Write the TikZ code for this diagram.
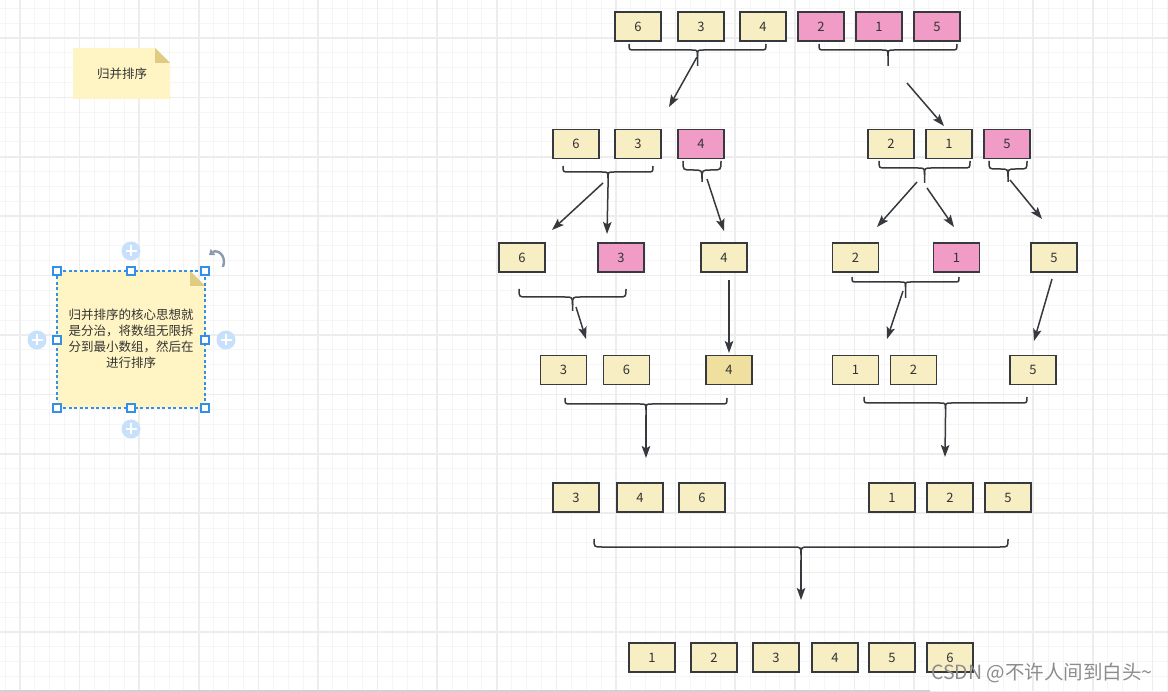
\documentclass[tikz,border=0pt]{standalone}
\usepackage{fontspec}
\setmainfont{Noto Sans CJK SC}
\usepackage{xcolor}
\usepackage{tikz}
\usetikzlibrary{positioning,arrows.meta}

\definecolor{boxline}{RGB}{54,57,61}
\definecolor{boxfill}{RGB}{247,238,196}
\definecolor{darkfill}{RGB}{240,224,160}
\definecolor{pinkfill}{RGB}{241,156,199}
\definecolor{notefill}{RGB}{255,244,195}
\definecolor{notefold}{RGB}{224,203,130}
\definecolor{selblue}{RGB}{51,144,229}
\definecolor{plusblue}{RGB}{199,224,252}
\definecolor{rotgrey}{RGB}{138,154,176}
\definecolor{gridminor}{RGB}{245,245,245}
\definecolor{gridmajor}{RGB}{237,237,237}
\definecolor{txt}{RGB}{51,51,51}

% brace from x=#1 to x=#2, top #3, bar #4, tip #5, tip coordinate named #6
\newcommand{\mergebrace}[6]{%
  \pgfmathsetmacro{\bxc}{(#1+#2)/2}%
  \pgfmathsetmacro{\br}{#4-#3}%
  \draw[bracket] (#1,#3) .. controls (#1,#4) .. (#1+\br,#4) -- (\bxc-\br,#4)
    .. controls (\bxc,#4) .. (\bxc,#4+\br) -- (\bxc,#5);
  \draw[bracket] (#2,#3) .. controls (#2,#4) .. (#2-\br,#4) -- (\bxc+\br,#4)
    .. controls (\bxc,#4) .. (\bxc,#4+\br);
  \coordinate (#6) at (\bxc,#5);}

\begin{document}
\begin{tikzpicture}[x=1pt, y=-1pt,
    numbox/.style ={draw=boxline, fill=boxfill, line width=1.6pt, minimum width=46pt,
                    minimum height=29pt, inner sep=0pt, text=txt,
                    font=\fontsize{13}{13}\selectfont},
    pinkbox/.style={numbox, fill=pinkfill},
    darkbox/.style={numbox, fill=darkfill},
    bracket/.style={draw=boxline, line width=1.5pt},
    flow/.style   ={draw=boxline, line width=1.5pt,
                    -{Stealth[length=12pt, width=8.5pt, inset=2.5pt]}},
    gridthin/.style ={draw=gridminor, line width=1pt},
    gridthick/.style={draw=gridmajor, line width=1.6pt},
    notetext/.style ={text=txt, align=center, font=\fontsize{12.5}{16}\selectfont},
    handle/.style   ={draw=selblue, fill=white, line width=1.2pt, minimum size=8pt,
                      inner sep=0pt},
    plusdot/.style  ={circle, fill=plusblue, minimum size=19pt, inner sep=0pt}
  ]
    \useasboundingbox (0,0) rectangle (1168,692);
    \fill[white] (0,0) rectangle (1168,692);

    % --- background grid ---
    \foreach \i in {0,...,78}
      \draw[gridthin] ({5.1+14.9*\i},0) -- ++(0,692);
    \foreach \j in {0,...,46}
      \draw[gridthin] (0,{8.3+14.85*\j}) -- ++(1168,0);
    \foreach \i in {0,...,19}
      \draw[gridthick] ({20+59.6*\i},0) -- ++(0,692);
    \foreach \j in {0,...,11}
      \draw[gridthick] (0,{38+59.4*\j}) -- ++(1168,0);
    \draw[line width=2pt, black!18] (0,690.5) -- (930,690.5);

    % --- title note ---
    \fill[notefill] (73,48) -- (155,48) -- (170,63) -- (170,99) -- (73,99) -- cycle;
    \fill[notefold] (155,48) -- (170,63) -- (155,63) -- cycle;
    \node[notetext] (title) at (122,74) {归并排序};

    % --- selected note ---
    \fill[notefill] (57,271) -- (190,271) -- (205,286) -- (205,408) -- (57,408) -- cycle;
    \fill[notefold] (190,271) -- (205,286) -- (190,286) -- cycle;
    \node[notetext] (idea) at (131,339)
      {归并排序的核心思想就\\是分治，将数组无限拆\\分到最小数组，然后在\\进行排序};
    \draw[selblue, line width=1.2pt, dash pattern=on 3pt off 2.5pt]
      (57,271) rectangle (205,408);
    \foreach \hx/\hy in {57/271, 131/271, 205/271, 57/340, 205/340, 57/408, 131/408, 205/408}
      \node[handle] at (\hx,\hy) {};
    \node[plusdot] (pn) at (131,251) {};
    \node[plusdot] (ps) at (131,429) {};
    \node[plusdot] (pw) at (37,340) {};
    \node[plusdot] (pe) at (226,340) {};
    \foreach \p in {pn,ps,pw,pe} {
      \draw[white, line width=1.8pt] ([xshift=-5.5pt]\p.center) -- ([xshift=5.5pt]\p.center);
      \draw[white, line width=1.8pt] ([yshift=-5.5pt]\p.center) -- ([yshift=5.5pt]\p.center);
    }
    \draw[rotgrey, line width=2.4pt, {Triangle[length=5pt, width=7.5pt]}-]
      (209,255) .. controls (217,249) and (227,255) .. (223,267);

    % --- row 1 ---
    \node[numbox]  (t6) at (638,26.5) {6};
    \node[numbox]  (t3) at (701,26.5) {3};
    \node[numbox]  (t4) at (763,26.5) {4};
    \node[pinkbox] (t2) at (821,26.5) {2};
    \node[pinkbox] (t1) at (879,26.5) {1};
    \node[pinkbox] (t5) at (937,26.5) {5};
    \mergebrace{629}{766}{44}{50}{66}{brTL}
    \mergebrace{819}{957}{44}{50}{66}{brTR}

    % --- row 2 ---
    \node[numbox]  (a6) at (576,144) {6};
    \node[numbox]  (a3) at (638,144) {3};
    \node[pinkbox] (a4) at (701,144) {4};
    \node[numbox]  (a2) at (891,144) {2};
    \node[numbox]  (a1) at (949,144) {1};
    \node[pinkbox] (a5) at (1007,144) {5};
    \mergebrace{563}{653}{166}{172}{187}{brAL}
    \mergebrace{683}{721}{161}{170}{182}{brA4}
    \mergebrace{879}{970}{161}{168}{183}{brAR}
    \mergebrace{989}{1027}{161}{169}{182}{brA5}

    % --- row 3 ---
    \node[numbox]  (b6) at (522,257.5) {6};
    \node[pinkbox] (b3) at (621,257.5) {3};
    \node[numbox]  (b4) at (724,257.5) {4};
    \node[numbox]  (b2) at (855.5,257.5) {2};
    \node[pinkbox] (b1) at (956.5,257.5) {1};
    \node[numbox]  (b5) at (1054,257.5) {5};
    \mergebrace{519}{626}{289}{297}{311}{brBL}
    \mergebrace{852}{959}{277}{282}{298}{brBR}

    % --- row 4 ---
    \node[numbox]  (c3) at (563.5,370) {3};
    \node[numbox]  (c6) at (626.5,370) {6};
    \node[darkbox] (c4) at (729,370) {4};
    \node[numbox]  (c1) at (855.5,370) {1};
    \node[numbox]  (c2) at (913.5,370) {2};
    \node[numbox]  (c5) at (1033,370) {5};
    \mergebrace{565}{727}{398}{404}{415}{brCL}
    \mergebrace{864}{1027}{397}{403}{417}{brCR}

    % --- row 5 ---
    \node[numbox] (d3) at (576,497.5) {3};
    \node[numbox] (d4) at (640,497.5) {4};
    \node[numbox] (d6) at (702,497.5) {6};
    \node[numbox] (d1) at (892,497.5) {1};
    \node[numbox] (d2) at (950,497.5) {2};
    \node[numbox] (d5) at (1008,497.5) {5};
    \mergebrace{594}{1008}{539}{547}{560}{brD}

    % --- result row ---
    \node[numbox] (e1) at (652,657.5) {1};
    \node[numbox] (e2) at (714,657.5) {2};
    \node[numbox] (e3) at (776,657.5) {3};
    \node[numbox] (e4) at (835,657.5) {4};
    \node[numbox] (e5) at (892,657.5) {5};
    \node[numbox] (e6) at (950,657.5) {6};

    % arrow ends
    \coordinate (sTL) at (697,57);    \coordinate (eTL) at (669,107);
    \coordinate (sTR) at (907,83);    \coordinate (eTR) at (944,126);
    \coordinate (sA6) at (603,183);   \coordinate (eA6) at (552,230);
    \coordinate (eA3) at (607,234);
    \coordinate (sA4) at (707,179);   \coordinate (eA4) at (724,231);
    \coordinate (sA2) at (917,182);   \coordinate (eA2) at (877,227);
    \coordinate (sA1) at (927,188);   \coordinate (eA1) at (954,227);
    \coordinate (sA5) at (1010,180);  \coordinate (eA5) at (1042,219);
    \coordinate (sBL) at (576,307);   \coordinate (eBL) at (586,339);
    \coordinate (sB4) at (729,280);   \coordinate (eB4) at (729,353);
    \coordinate (sBR) at (903,291);   \coordinate (eBR) at (887,339);
    \coordinate (sB5) at (1052,279);  \coordinate (eB5) at (1034,341);
    \coordinate (eCL) at (646,458);
    \coordinate (eCR) at (945,457);
    \coordinate (eD)  at (801,600);

    \draw[flow] (sTL) -- (eTL);
    \draw[flow] (sTR) -- (eTR);
    \draw[flow] (sA6) -- (eA6);
    \draw[flow] (brAL) -- (eA3);
    \draw[flow] (sA4) -- (eA4);
    \draw[flow] (sA2) -- (eA2);
    \draw[flow] (sA1) -- (eA1);
    \draw[flow] (sA5) -- (eA5);
    \draw[flow] (sBL) -- (eBL);
    \draw[flow] (sB4) -- (eB4);
    \draw[flow] (sBR) -- (eBR);
    \draw[flow] (sB5) -- (eB5);
    \draw[flow] (brCL) -- (eCL);
    \draw[flow] (brCR) -- (eCR);
    \draw[flow] (brD) -- (eD);

    % watermark
    \node[text=black!45, font=\fontsize{19.5}{19.5}\selectfont] (mark) at (1042,673)
      {CSDN @不许人间到白头\textasciitilde};
  \end{tikzpicture}
\end{document}
